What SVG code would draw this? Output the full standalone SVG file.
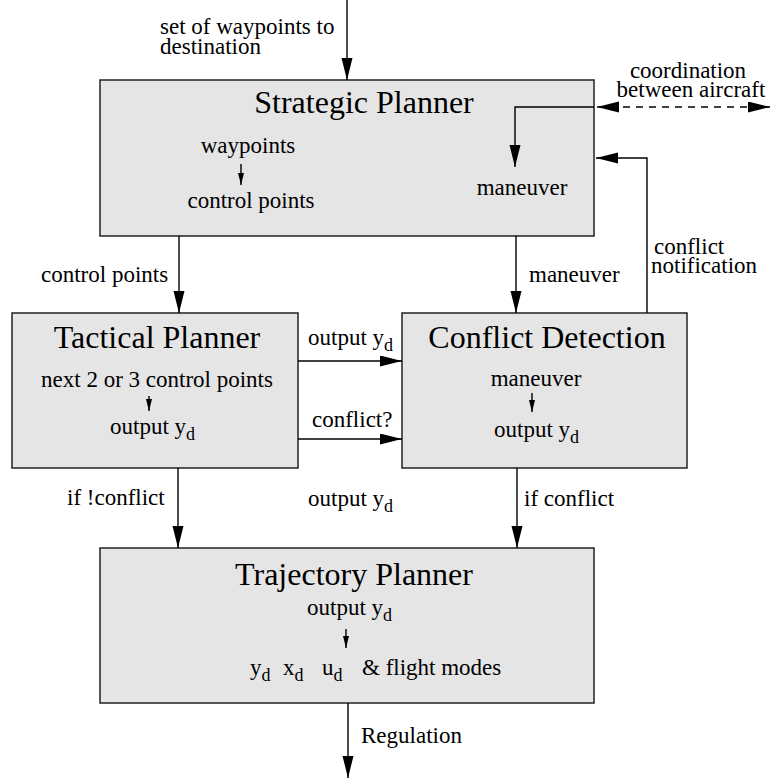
<svg xmlns="http://www.w3.org/2000/svg" width="771" height="783" viewBox="0 0 771 783">
<style>
.box{fill:#e5e5e5;stroke:#222;stroke-width:1.5}
.ln{fill:none;stroke:#000;stroke-width:1.4}
.t{font-family:"Liberation Serif","Times New Roman",serif;font-size:23px;fill:#000}
.title{font-family:"Liberation Serif","Times New Roman",serif;font-size:32px;fill:#000}
.m{text-anchor:middle}
.sub{font-size:18px}
</style>
<defs>
<marker id="ah" markerUnits="userSpaceOnUse" markerWidth="22" markerHeight="12" refX="22" refY="5.5" orient="auto-start-reverse"><path d="M0,0 L22,5.5 L0,11 z" fill="#000"/></marker>
<marker id="sa" markerUnits="userSpaceOnUse" markerWidth="12" markerHeight="6" refX="12" refY="3" orient="auto"><path d="M0,0 L12,3 L0,6 z" fill="#000"/></marker>
</defs>
<g id="strategic">
<rect class="box" x="100" y="80" width="494" height="156"/>
<text class="title m" x="364" y="113">Strategic Planner</text>
<text class="t m" x="248" y="153">waypoints</text>
<text class="t m" x="251" y="208">control points</text>
<text class="t m" x="522" y="195">maneuver</text>
<line class="ln" x1="241" y1="164" x2="241" y2="185" marker-end="url(#sa)"/>
</g>
<g id="tactical">
<rect class="box" x="12" y="313" width="286" height="155"/>
<text class="title m" x="157" y="348">Tactical Planner</text>
<text class="t m" x="157" y="387">next 2 or 3 control points</text>
<line class="ln" x1="149" y1="396" x2="149" y2="411" marker-end="url(#sa)"/>
<text class="t" x="110" y="434">output y<tspan class="sub" dy="6">d</tspan></text>
</g>
<g id="conflict">
<rect class="box" x="402" y="313" width="285" height="155"/>
<text class="title m" x="547" y="348">Conflict Detection</text>
<text class="t m" x="536" y="386">maneuver</text>
<line class="ln" x1="532" y1="393" x2="532" y2="412" marker-end="url(#sa)"/>
<text class="t" x="494" y="437">output y<tspan class="sub" dy="6">d</tspan></text>
</g>
<g id="trajectory">
<rect class="box" x="100" y="548" width="494" height="155"/>
<text class="title m" x="354" y="585">Trajectory Planner</text>
<text class="t" x="307" y="615">output y<tspan class="sub" dy="6">d</tspan></text>
<line class="ln" x1="346" y1="629" x2="346" y2="648" marker-end="url(#sa)"/>
<text class="t" y="675"><tspan x="250">y</tspan><tspan class="sub" dy="6">d</tspan><tspan x="283" dy="-6">x</tspan><tspan class="sub" dy="6">d</tspan><tspan x="322" dy="-6">u</tspan><tspan class="sub" dy="6">d</tspan><tspan x="362" dy="-6">&amp; flight modes</tspan></text>
</g>
<g id="connectors">
<line class="ln" x1="347" y1="0" x2="347" y2="80" marker-end="url(#ah)"/>
<polyline class="ln" points="594,107 515,107 515,167" marker-end="url(#ah)"/>
<line class="ln" x1="597" y1="107" x2="770" y2="107" stroke-dasharray="7,6" marker-start="url(#ah)" marker-end="url(#ah)"/>
<polyline class="ln" points="647,313 647,158 596,158" marker-end="url(#ah)"/>
<line class="ln" x1="179" y1="236" x2="179" y2="313" marker-end="url(#ah)"/>
<line class="ln" x1="516" y1="236" x2="516" y2="313" marker-end="url(#ah)"/>
<line class="ln" x1="298" y1="361" x2="402" y2="361" marker-end="url(#ah)"/>
<line class="ln" x1="298" y1="439" x2="402" y2="439" marker-end="url(#ah)"/>
<line class="ln" x1="178" y1="468" x2="178" y2="548" marker-end="url(#ah)"/>
<line class="ln" x1="517" y1="468" x2="517" y2="548" marker-end="url(#ah)"/>
<line class="ln" x1="348" y1="703" x2="348" y2="778" marker-end="url(#ah)"/>
<text class="t"><tspan x="160" y="34">set of waypoints to</tspan><tspan x="160" y="54">destination</tspan></text>
<text class="t m"><tspan x="688" y="78">coordination</tspan><tspan x="691" y="97">between aircraft</tspan></text>
<text class="t"><tspan x="654" y="254">conflict</tspan><tspan x="651" y="273">notification</tspan></text>
<text class="t" x="529" y="282">maneuver</text>
<text class="t" x="41" y="282">control points</text>
<text class="t" x="308" y="345">output y<tspan class="sub" dy="6">d</tspan></text>
<text class="t" x="312" y="427">conflict?</text>
<text class="t" x="67" y="505">if !conflict</text>
<text class="t" x="308" y="506">output y<tspan class="sub" dy="6">d</tspan></text>
<text class="t" x="524" y="506">if conflict</text>
<text class="t" x="361" y="743">Regulation</text>
</g>
</svg>
